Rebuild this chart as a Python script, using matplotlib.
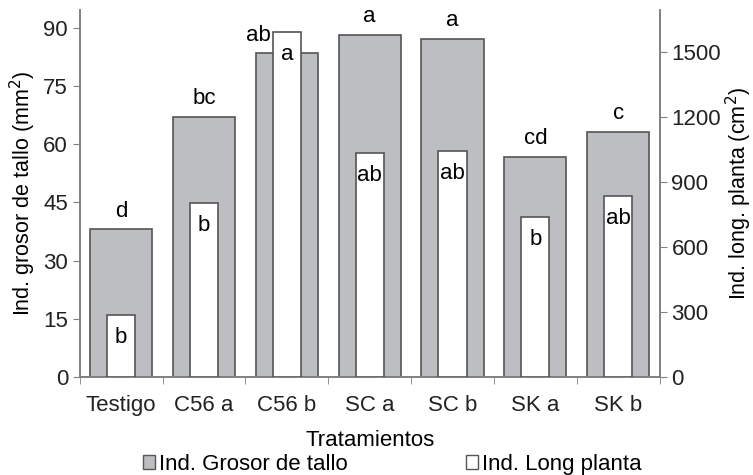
import matplotlib
matplotlib.use("Agg")
import matplotlib.pyplot as plt
import numpy as np
from matplotlib.patches import Patch

plt.rcParams["font.family"] = ["Liberation Sans", "DejaVu Sans"]

# datos
tratamientos = ["Testigo", "C56 a", "C56 b", "SC a", "SC b", "SK a", "SK b"]
grosor = [38.1, 67.0, 83.5, 88.1, 87.1, 56.7, 63.1]          # mm2, eje izq.
longitud = [286, 803, 1592, 1034, 1043, 738, 835]            # cm2, eje der.
letras_grosor = ["d", "bc", "ab", "a", "a", "cd", "c"]
letras_long = ["b", "b", "a", "ab", "ab", "b", "ab"]

GRIS = "#bdbec1"
BORDE = "#555555"
EJE = "#808080"
FS = 16

fig = plt.figure(figsize=(7.53, 4.75), dpi=100)
ax = fig.add_axes([0.106, 0.206, 0.770, 0.773])
ax2 = ax.twinx()

x = np.arange(len(tratamientos))
ax.bar(x, grosor, width=0.75, color=GRIS, edgecolor=BORDE, linewidth=1.2, zorder=2)
ax2.bar(x, longitud, width=0.34, color="white", edgecolor=BORDE, linewidth=1.2, zorder=3)

ax.set_xlim(-0.5, len(tratamientos) - 0.5)
ax.set_ylim(0, 94.6)
ax2.set_ylim(0, 1694)
ax.set_yticks(np.arange(0, 91, 15))
ax2.set_yticks(np.arange(0, 1501, 300))
ax.set_xticks(x)
ax.set_xticklabels(tratamientos)
ax.set_xticks(np.arange(-0.5, len(tratamientos)), minor=True)
ax.tick_params(axis="x", which="major", length=0, labelsize=FS, pad=13, colors="#222222")
ax.tick_params(axis="x", which="minor", length=5, color=EJE)
ax.tick_params(axis="y", labelsize=FS, length=5, color=EJE, labelcolor="#222222")
ax2.tick_params(axis="y", labelsize=FS, length=5, color=EJE, labelcolor="#222222")

for a in (ax, ax2):
    a.spines["top"].set_visible(False)
    for s in ("left", "right", "bottom"):
        a.spines[s].set_color(EJE)
        a.spines[s].set_linewidth(1.2)

ax.set_ylabel("Ind. grosor de tallo (mm$^2$)", fontsize=15.5, labelpad=4)
ax2.set_ylabel("Ind. long. planta (cm$^2$)", fontsize=15.5, labelpad=2)
ax.set_xlabel("Tratamientos", fontsize=FS, labelpad=10)

# letras de significancia
esc = 94.6 / 1694
for i, (g, l) in enumerate(zip(grosor, longitud)):
    if l * esc > g:
        ax.text(i - 0.19, g + 1.8, letras_grosor[i], ha="right", va="bottom",
                fontsize=FS, zorder=5)
    else:
        ax.text(i, g + 2.0, letras_grosor[i], ha="center", va="bottom",
                fontsize=FS, zorder=5)
    ax2.text(i, l - 55, letras_long[i], ha="center", va="top", fontsize=FS, zorder=5)

handles = [Patch(facecolor=GRIS, edgecolor=BORDE), Patch(facecolor="white", edgecolor=BORDE)]
fig.legend(handles, ["Ind. Grosor de tallo", "Ind. Long planta"], loc="center",
           bbox_to_anchor=(0.521, 0.022), ncol=2, frameon=False, fontsize=FS,
           handlelength=0.55, handleheight=0.55, handletextpad=0.2, columnspacing=5.3)

fig.savefig("out.png", dpi=100)
